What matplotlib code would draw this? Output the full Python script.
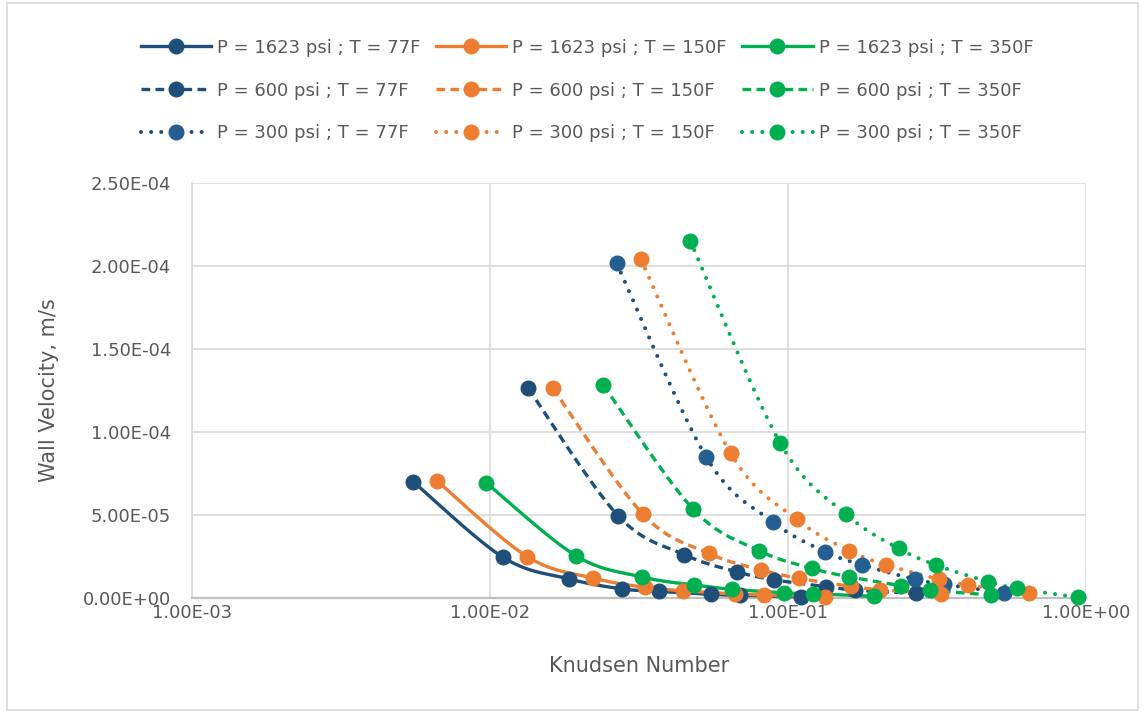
import numpy as np
import matplotlib
matplotlib.use("Agg")
import matplotlib.pyplot as plt
from matplotlib.patches import Rectangle

plt.rcParams['font.family'] = ['DejaVu Sans']

# ---- data ----
kn_1623_77 = [0.00553, 0.01106, 0.01843, 0.02765, 0.03687, 0.0553, 0.0691, 0.1106]
kn_1623_150 = [0.00665, 0.0133, 0.02217, 0.03325, 0.04433, 0.0665, 0.0831, 0.133]
kn_1623_350 = [0.0097, 0.0194, 0.03233, 0.0485, 0.06467, 0.097, 0.1213, 0.194]
kn_600_77 = [0.01344, 0.02688, 0.0448, 0.0672, 0.0896, 0.1344, 0.168, 0.2688]
kn_600_150 = [0.01627, 0.03254, 0.05423, 0.08135, 0.1085, 0.1627, 0.2034, 0.3254]
kn_600_350 = [0.024, 0.048, 0.08, 0.12, 0.16, 0.24, 0.30, 0.48]
kn_300_77 = [0.02662, 0.05324, 0.08873, 0.1331, 0.1775, 0.2662, 0.3328, 0.5324]
kn_300_150 = [0.0321, 0.0642, 0.107, 0.1605, 0.214, 0.321, 0.4013, 0.642]
kn_300_350 = [0.047, 0.094, 0.1567, 0.235, 0.3133, 0.47, 0.5875, 0.94]

v_1623_77 = [7.0e-5, 2.45e-5, 1.15e-5, 5.5e-6, 4.0e-6, 2.2e-6, 1.6e-6, 0.8e-6]
v_1623_150 = [7.05e-5, 2.5e-5, 1.2e-5, 6.4e-6, 4.4e-6, 2.4e-6, 1.9e-6, 0.9e-6]
v_1623_350 = [6.95e-5, 2.55e-5, 1.27e-5, 7.8e-6, 5.3e-6, 3.1e-6, 2.6e-6, 1.0e-6]
v_600_77 = [1.263e-4, 4.96e-5, 2.62e-5, 1.58e-5, 1.1e-5, 6.8e-6, 4.8e-6, 2.8e-6]
v_600_150 = [1.263e-4, 5.06e-5, 2.69e-5, 1.69e-5, 1.19e-5, 7.0e-6, 5.0e-6, 2.5e-6]
v_600_350 = [1.283e-4, 5.36e-5, 2.85e-5, 1.79e-5, 1.28e-5, 7.4e-6, 4.8e-6, 1.8e-6]
v_300_77 = [2.016e-4, 8.47e-5, 4.6e-5, 2.79e-5, 1.99e-5, 1.13e-5, 8.3e-6, 3.2e-6]
v_300_150 = [2.04e-4, 8.72e-5, 4.74e-5, 2.85e-5, 1.99e-5, 1.13e-5, 7.8e-6, 2.8e-6]
v_300_350 = [2.152e-4, 9.36e-5, 5.04e-5, 2.99e-5, 1.99e-5, 9.8e-6, 5.8e-6, 0.4e-6]

labels = ["P = 1623 psi ; T = 77F", "P = 600 psi ; T = 77F", "P = 300 psi ; T = 77F",
          "P = 1623 psi ; T = 150F", "P = 600 psi ; T = 150F", "P = 300 psi ; T = 150F",
          "P = 1623 psi ; T = 350F", "P = 600 psi ; T = 350F", "P = 300 psi ; T = 350F"]

NAVY = "#1F4E79"
NAVY2 = "#255E91"
ORANGE = "#ED7D31"
GREEN = "#00B050"
TXT = "#595959"

series = [
    (kn_1623_77, v_1623_77, NAVY, NAVY, "solid"),
    (kn_600_77, v_600_77, NAVY, NAVY, "dash"),
    (kn_300_77, v_300_77, NAVY, NAVY2, "dot"),
    (kn_1623_150, v_1623_150, ORANGE, ORANGE, "solid"),
    (kn_600_150, v_600_150, ORANGE, ORANGE, "dash"),
    (kn_300_150, v_300_150, ORANGE, ORANGE, "dot"),
    (kn_1623_350, v_1623_350, GREEN, GREEN, "solid"),
    (kn_600_350, v_600_350, GREEN, GREEN, "dash"),
    (kn_300_350, v_300_350, GREEN, GREEN, "dot"),
]

XMIN, XMAX, YMIN, YMAX = 1e-3, 1.0, 0.0, 2.5e-4


def smooth(xs, ys, sx, sy, n=30):
    # excel-style smoothed line (catmull-rom bezier), worked out in pixel space
    px = np.log10(xs) * sx
    py = np.asarray(ys) * sy
    P = np.column_stack([px, py])
    P = np.vstack([P[0], P, P[-1]])
    out = []
    t = np.linspace(0, 1, n)[:, None]
    for i in range(1, len(P) - 2):
        p0, p1, p2, p3 = P[i - 1], P[i], P[i + 1], P[i + 2]
        c1 = p1 + (p2 - p0) / 6.0
        c2 = p2 - (p3 - p1) / 6.0
        seg = ((1 - t) ** 3) * p1 + 3 * ((1 - t) ** 2) * t * c1 + 3 * (1 - t) * t ** 2 * c2 + t ** 3 * p2
        out.append(seg if i == 1 else seg[1:])
    out = np.vstack(out)
    return 10 ** (out[:, 0] / sx), out[:, 1] / sy


fig = plt.figure(figsize=(11.45, 7.13), dpi=100)
ax = fig.add_axes([192 / 1145, 115 / 713, 894 / 1145, 415 / 713])

# pixels per decade / per unit of y
sx = 298.0
sy = 415.0 / (YMAX - YMIN)

styles = {"solid": "-", "dash": (0, (2.6, 1.6)), "dot": (0, (0.01, 2.5))}
widths = {"solid": 2.4, "dash": 2.4, "dot": 2.9}

handles = []
for (kn, v, col, mcol, ls), lab in zip(series, labels):
    xs, ys = smooth(kn, v, sx, sy)
    cap = "round" if ls == "dot" else "butt"
    ax.plot(xs, ys, color=col, lw=widths[ls], linestyle=styles[ls],
            dash_capstyle=cap, zorder=3, clip_on=False)
    ax.plot(kn, v, "o", color=mcol, markersize=10.5, zorder=4, clip_on=False)
    h, = ax.plot([], [], color=col, lw=widths[ls], linestyle=styles[ls], dash_capstyle=cap,
                 marker="o", markersize=10.5, markerfacecolor=mcol, markeredgecolor=mcol)
    handles.append(h)

ax.set_xscale("log")
ax.set_xlim(XMIN, XMAX)
ax.set_ylim(YMIN, YMAX)
ax.set_xticks([1e-3, 1e-2, 1e-1, 1e0])
ax.set_xticklabels(["1.00E-03", "1.00E-02", "1.00E-01", "1.00E+00"])
ax.xaxis.set_minor_locator(matplotlib.ticker.NullLocator())
yt = np.arange(0, 2.51e-4, 5e-5)
ax.set_yticks(yt)
ax.set_yticklabels(["%.2E" % t for t in yt])

ax.grid(True, color="#D9D9D9", lw=1.2)
ax.set_axisbelow(True)
for s in ["top", "right"]:
    ax.spines[s].set_visible(False)
ax.spines["left"].set_color("#D9D9D9")
ax.spines["left"].set_linewidth(1.2)
ax.spines["bottom"].set_color("#BFBFBF")
ax.spines["bottom"].set_linewidth(1.6)
ax.tick_params(length=0, labelsize=13, labelcolor=TXT)
ax.tick_params(axis="y", pad=15)
ax.tick_params(axis="x", pad=4)

ax.set_xlabel("Knudsen Number", fontsize=15, color=TXT, labelpad=25)
ax.set_ylabel("Wall Velocity, m/s", fontsize=15, color=TXT, labelpad=17)

leg = fig.legend(handles=handles, labels=labels, ncol=3, loc="center",
                 bbox_to_anchor=(0.5127, 0.873), frameon=False, fontsize=13,
                 handlelength=3.9, handletextpad=0.33, columnspacing=0.85,
                 labelspacing=1.38, numpoints=1)
for t in leg.get_texts():
    t.set_color(TXT)

fig.patches.append(Rectangle((0.006, 0.004), 0.988, 0.992, transform=fig.transFigure,
                             fill=False, edgecolor="#D9D9D9", lw=1.2))

fig.savefig("out.png", dpi=100)
